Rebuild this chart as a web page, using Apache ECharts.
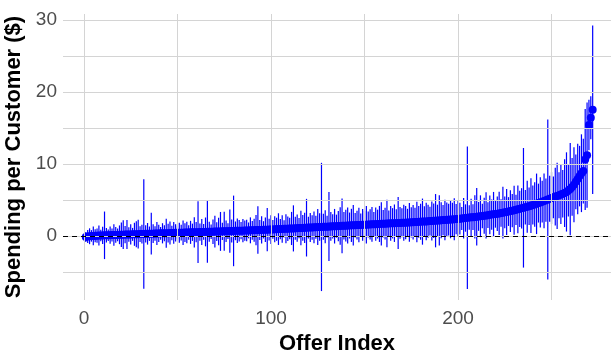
<!DOCTYPE html>
<html>
<head>
<meta charset="utf-8">
<script src="https://cdn.jsdelivr.net/npm/echarts@6/dist/echarts.min.js"></script>
<style>
  html, body { margin: 0; padding: 0; background: #ffffff; }
  #chart { width: 611px; height: 350px; }
</style>
</head>
<body>
<div id="chart"></div>
<script>
// Mean spending per customer for each offer, sorted ascending (offer index 1..272)
const meanSpend = [
  -0.15, -0.1, -0.05, 0, 0, 0.02, 0.03, 0.05, 0.06, 0.07,
  0.08, 0.09, 0.1, 0.1, 0.11, 0.12, 0.13, 0.14, 0.15, 0.16,
  0.17, 0.18, 0.19, 0.2, 0.2, 0.21, 0.22, 0.23, 0.24, 0.25,
  0.26, 0.27, 0.28, 0.29, 0.3, 0.3, 0.31, 0.32, 0.33, 0.34,
  0.35, 0.36, 0.37, 0.37, 0.38, 0.39, 0.4, 0.41, 0.42, 0.43,
  0.44, 0.45, 0.45, 0.46, 0.47, 0.48, 0.49, 0.5, 0.5, 0.51,
  0.52, 0.53, 0.54, 0.55, 0.55, 0.56, 0.57, 0.58, 0.59, 0.6,
  0.6, 0.61, 0.62, 0.63, 0.64, 0.65, 0.66, 0.67, 0.68, 0.69,
  0.7, 0.7, 0.71, 0.72, 0.73, 0.74, 0.75, 0.76, 0.77, 0.78,
  0.79, 0.8, 0.81, 0.82, 0.83, 0.84, 0.85, 0.86, 0.87, 0.88,
  0.9, 0.91, 0.92, 0.94, 0.95, 0.96, 0.98, 0.99, 1.0, 1.02,
  1.03, 1.04, 1.06, 1.07, 1.08, 1.1, 1.11, 1.12, 1.14, 1.15,
  1.16, 1.18, 1.19, 1.2, 1.22, 1.23, 1.24, 1.26, 1.27, 1.28,
  1.3, 1.31, 1.32, 1.34, 1.35, 1.36, 1.38, 1.39, 1.4, 1.42,
  1.43, 1.44, 1.46, 1.47, 1.48, 1.5, 1.51, 1.52, 1.54, 1.55,
  1.56, 1.58, 1.59, 1.6, 1.62, 1.63, 1.64, 1.66, 1.67, 1.68,
  1.7, 1.71, 1.72, 1.74, 1.75, 1.76, 1.78, 1.79, 1.8, 1.82,
  1.83, 1.84, 1.86, 1.87, 1.88, 1.9, 1.91, 1.93, 1.95, 1.96,
  1.98, 2.0, 2.01, 2.03, 2.05, 2.07, 2.09, 2.11, 2.13, 2.15,
  2.17, 2.19, 2.21, 2.23, 2.25, 2.27, 2.29, 2.31, 2.34, 2.36,
  2.39, 2.42, 2.45, 2.48, 2.51, 2.54, 2.57, 2.6, 2.63, 2.66,
  2.7, 2.73, 2.76, 2.8, 2.84, 2.88, 2.92, 2.96, 3.0, 3.04,
  3.08, 3.12, 3.17, 3.22, 3.27, 3.32, 3.38, 3.44, 3.5, 3.56,
  3.62, 3.68, 3.75, 3.82, 3.9, 3.97, 4.05, 4.12, 4.2, 4.28,
  4.36, 4.45, 4.55, 4.65, 4.75, 4.85, 4.95, 5.05, 5.15, 5.25,
  5.35, 5.45, 5.55, 5.65, 5.75, 5.85, 5.95, 6.1, 6.3, 6.5,
  6.8, 7.1, 7.5, 7.9, 8.3, 8.7, 9.0,
  10.6, 11.2, 15.4, 16.4, 17.5
];

// Half-width of the interval drawn around each mean
const halfWidth = [
  0.7, 0.9, 1.1, 0.8, 1.3, 0.9, 1.0, 1.4, 0.8, 1.2,
  3.3, 1.0, 0.8, 1.2, 0.9, 1.5, 1.1, 0.9, 1.3, 1.7,
  2.0, 1.2, 2.0, 1.0, 1.4, 0.9, 1.6, 1.8, 2.0, 1.1,
  1.3, 7.6, 1.2, 1.5, 1.0, 2.9, 1.3, 1.0, 1.6, 1.2,
  0.9, 1.4, 1.1, 2.0, 1.3, 1.6, 1.0, 1.5, 1.2, 0.9,
  1.4, 1.1, 1.7, 1.3, 1.5, 1.0, 1.6, 1.2, 2.1, 1.4,
  4.3, 1.2, 1.8, 1.1, 2.0, 4.3, 1.4, 1.0, 1.7, 2.2,
  1.3, 1.9, 2.7, 1.2, 2.7, 1.5, 1.1, 3.0, 1.6, 4.9,
  1.3, 1.7, 1.5, 1.2, 1.6, 1.4, 1.5, 1.1, 1.8, 1.3,
  1.6, 2.1, 3.3, 1.4, 1.9, 1.2, 1.7, 3.0, 1.5, 2.0,
  1.3, 1.8, 1.6, 2.2, 1.4, 1.9, 1.2, 2.0, 1.7, 1.5,
  2.3, 3.2, 1.6, 1.9, 1.4, 2.4, 1.8, 2.1, 4.0, 1.5,
  2.0, 1.7, 2.2, 1.6, 2.5, 1.9, 8.9, 1.8, 2.3, 1.5,
  4.8, 2.0, 1.7, 2.4, 1.6, 2.1, 2.6, 3.8, 1.9, 2.2,
  2.5, 1.8, 2.3, 2.8, 1.7, 2.0, 2.4, 1.6, 2.2, 1.9,
  2.6, 1.8, 2.1, 2.4, 1.7, 2.3, 2.0, 2.5, 3.0, 1.9,
  2.2, 3.3, 1.8, 2.4, 2.1, 2.6, 1.9, 3.6, 2.2, 2.0,
  2.5, 2.3, 1.9, 2.7, 2.1, 2.4, 2.0, 2.8, 2.2, 2.5,
  3.2, 2.1, 2.6, 2.3, 2.0, 2.7, 2.4, 3.7, 2.2, 3.5,
  2.5, 2.1, 2.8, 2.4, 2.2, 2.6, 2.3, 2.9, 2.1, 2.5,
  2.2, 1.6, 2.8, 1.9, 9.9, 1.7, 2.6, 1.8, 3.0, 4.0,
  2.0, 2.9, 1.7, 2.5, 3.2, 1.8, 2.7, 2.1, 3.1, 1.9,
  2.4, 3.0, 1.9, 3.6, 2.2, 3.2, 2.0, 2.9, 2.3, 3.4,
  2.1, 3.3, 2.5, 2.8, 8.3, 2.4, 3.6, 2.6, 3.8, 2.7,
  3.1, 4.2, 2.7, 3.5, 2.9, 3.8, 3.0, 11.1, 3.2, 3.6,
  2.9, 4.0, 4.6, 3.2, 4.1, 3.3, 4.7, 5.5, 3.6, 6.4,
  4.0, 5.2, 3.8, 4.9, 4.2, 5.4, 4.5,
  7.0, 7.3, 3.5, 3.0, 11.7
];

const xTickLabels = [0, 100, 200];
const yTickLabels = [0, 10, 20, 30];
const xGridValues = [0, 50, 100, 150, 200, 250];
const yGridValues = [-5, 0, 5, 10, 15, 20, 25, 30];

const pointData = meanSpend.map((m, i) => [i + 1, m]);
const barData = meanSpend.map((m, i) => [i + 1, m - halfWidth[i], m + halfWidth[i]]);

const gridLineStyle = { color: '#d4d4d4', width: 1, type: 'solid' };
const font = '"Liberation Sans", Arial, sans-serif';

const chart = echarts.init(document.getElementById('chart'), null, { renderer: 'canvas' });

chart.setOption({
  animation: false,
  backgroundColor: '#ffffff',
  grid: { left: 63, right: 0, top: 14, bottom: 50, containLabel: false, outerBoundsMode: 'none' },
  xAxis: {
    type: 'value',
    min: -11.2,
    max: 281.8,
    name: 'Offer Index',
    nameLocation: 'middle',
    nameGap: 29,
    nameTextStyle: { fontFamily: font, fontSize: 22, fontWeight: 'bold', color: '#000000' },
    axisLine: { show: false },
    axisTick: { show: false },
    splitLine: { show: false },
    axisLabel: {
      customValues: xTickLabels,
      margin: 9,
      fontFamily: font, fontSize: 19, color: '#4d4d4d'
    }
  },
  yAxis: {
    type: 'value',
    min: -8.9,
    max: 30.8,
    name: 'Spending per Customer ($)',
    nameLocation: 'middle',
    nameGap: 33,
    nameTextStyle: { fontFamily: font, fontSize: 22, fontWeight: 'bold', color: '#000000' },
    axisLine: { show: false },
    axisTick: { show: false },
    splitLine: { show: false },
    axisLabel: {
      customValues: yTickLabels,
      margin: 6,
      fontFamily: font, fontSize: 19, color: '#4d4d4d'
    }
  },
  series: [
    {
      // panel grid lines
      type: 'line',
      data: [],
      silent: true,
      z: 0,
      markLine: {
        silent: true,
        symbol: ['none', 'none'],
        label: { show: false },
        lineStyle: gridLineStyle,
        data: xGridValues.map(v => ({ xAxis: v })).concat(yGridValues.map(v => ({ yAxis: v })))
      }
    },
    {
      // interval bars
      type: 'custom',
      data: barData,
      z: 2,
      renderItem: function (params, api) {
        const x = api.value(0);
        const p1 = api.coord([x, api.value(1)]);
        const p2 = api.coord([x, api.value(2)]);
        return {
          type: 'line',
          shape: { x1: p1[0], y1: p1[1], x2: p2[0], y2: p2[1] },
          style: { stroke: '#0000ff', lineWidth: 1.2 }
        };
      }
    },
    {
      // zero reference line
      type: 'line',
      data: [],
      silent: true,
      z: 3,
      markLine: {
        silent: true,
        symbol: ['none', 'none'],
        label: { show: false },
        lineStyle: { color: '#000000', width: 1.2, type: [5, 4] },
        data: [{ yAxis: 0 }]
      }
    },
    {
      // mean points
      type: 'scatter',
      data: pointData,
      z: 4,
      symbol: 'circle',
      symbolSize: 8,
      itemStyle: { color: '#0000ff', opacity: 1 }
    }
  ]
});
</script>
</body>
</html>
